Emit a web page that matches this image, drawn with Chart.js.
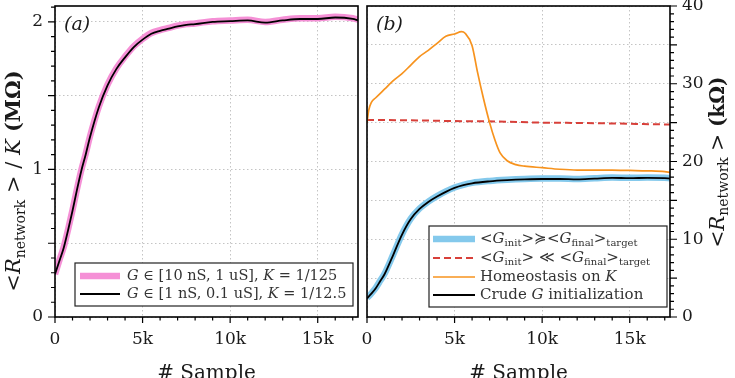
<!DOCTYPE html>
<html>
<head>
<meta charset="utf-8">
<script src="https://cdn.jsdelivr.net/npm/chart.js@4.4.0/dist/chart.umd.min.js"></script>
<style>
  html, body { margin: 0; padding: 0; background: #fff; overflow: hidden; }
  canvas { position: absolute; top: 0; }
  #chartA { left: 0; }
  #chartB { left: 362px; }
</style>
</head>
<body>
<canvas id="chartA" width="362" height="378"></canvas>
<canvas id="chartB" width="373" height="378"></canvas>
<script>
const FONT = '"DejaVu Serif", "Liberation Serif", serif';
const INK = "#1a1a1a";

// x axis (both panels)
const xMax = 17300;
const xTickValues = [0, 5000, 10000, 15000];
const xTickLabels = ["0", "5k", "10k", "15k"];

// panel (a): <R_network>/K in MOhm
const samplesA = [0, 250, 500, 750, 1000, 1250, 1500, 1750, 2000, 2500, 3000, 3500, 4000, 4500, 5000, 5500,
    6000, 6500, 7000, 7500, 8000, 9000, 10000, 11000, 12000, 13000, 14000, 15000, 16000, 17000, 17300];
const wideRange = [0.29, 0.385, 0.475, 0.595, 0.725, 0.865, 0.995, 1.105, 1.225, 1.425, 1.575, 1.685, 1.765, 1.835, 1.885, 1.925,
    1.945, 1.96, 1.975, 1.985, 1.99, 2.005, 2.01, 2.015, 2.0, 2.015, 2.025, 2.025, 2.035, 2.025, 2.015];
const narrowRange = [0.29, 0.38, 0.47, 0.59, 0.72, 0.86, 0.99, 1.10, 1.22, 1.42, 1.57, 1.68, 1.76, 1.83, 1.88, 1.92,
    1.94, 1.955, 1.97, 1.98, 1.985, 2.0, 2.005, 2.01, 1.995, 2.01, 2.02, 2.02, 2.03, 2.02, 2.01];
const yGridA = [0, 0.5, 1, 1.5, 2];
const yTicksA = [0, 1, 2];

// panel (b): <R_network> in kOhm
const samplesB = [0, 250, 500, 750, 1000, 1500, 2000, 2500, 3000, 3500, 4000, 4500, 5000, 5500, 6000, 7000,
    8000, 9000, 10000, 11000, 12000, 13000, 14000, 15000, 16000, 17000, 17300];
const matchedInit = [2.45, 3.05, 3.75, 4.65, 5.55, 8.05, 10.65, 12.65, 13.95, 14.85, 15.55, 16.15, 16.65, 17.0, 17.25, 17.5,
    17.65, 17.75, 17.8, 17.8, 17.75, 17.85, 17.95, 17.9, 17.95, 17.9, 17.85];
const crudeInit = [2.4, 3.0, 3.7, 4.6, 5.5, 8.0, 10.6, 12.6, 13.9, 14.8, 15.5, 16.1, 16.6, 16.95, 17.2, 17.45,
    17.6, 17.7, 17.75, 17.75, 17.7, 17.8, 17.9, 17.85, 17.9, 17.85, 17.8];
const samplesHomeo = [0, 100, 250, 500, 1000, 1500, 2000, 2500, 3000, 3500, 4000, 4500, 5000, 5400, 5600, 6000,
    6300, 6650, 7000, 7300, 7600, 8000, 8500, 9000, 10000, 11000, 12000, 13000, 14000, 15000, 16000, 17000, 17300];
const homeostasisK = [25.0, 26.6, 27.6, 28.2, 29.3, 30.4, 31.3, 32.4, 33.5, 34.3, 35.2, 36.1, 36.4, 36.7, 36.5, 34.9,
    31.6, 28.1, 25.0, 22.8, 21.1, 20.1, 19.6, 19.4, 19.2, 19.0, 18.9, 18.9, 18.9, 18.85, 18.8, 18.7, 18.6];
const samplesLow = [0, 2500, 5000, 7500, 10000, 12500, 15000, 17300];
const lowInit = [25.35, 25.3, 25.2, 25.15, 25.0, 24.95, 24.85, 24.75];
const yGridB = [0, 5, 10, 15, 20, 25, 30, 35, 40];
const yTicksB = [0, 10, 20, 30, 40];

function pts(xs, ys) {
    return xs.map((x, i) => ({ x: x, y: ys[i] }));
}

// rich text: [text, style] with n = normal, i = italic, b = bold, s = subscript
function partFont(style, size) {
    if (style === "i") return "italic " + size + "px " + FONT;
    if (style === "b") return "bold " + size + "px " + FONT;
    if (style === "s") return Math.round(size * 0.68) + "px " + FONT;
    return size + "px " + FONT;
}

function richWidth(ctx, parts, size) {
    let w = 0;
    parts.forEach(p => { ctx.font = partFont(p[1], size); w += ctx.measureText(p[0]).width; });
    return w;
}

function drawRich(ctx, parts, x, y, size, align) {
    let cx = x;
    if (align === "center") cx = x - richWidth(ctx, parts, size) / 2;
    ctx.textBaseline = "middle";
    ctx.textAlign = "left";
    parts.forEach(p => {
        ctx.font = partFont(p[1], size);
        const dy = p[1] === "s" ? size * 0.28 : 0;
        ctx.fillText(p[0], cx, y + dy);
        cx += ctx.measureText(p[0]).width;
    });
}

const panelPlugin = {
    id: "panel",
    afterDraw(chart, args, opts) {
        const ctx = chart.ctx;
        const area = chart.chartArea;
        const xs = chart.scales.x;
        const ys = chart.scales.y;
        ctx.save();
        ctx.fillStyle = INK;
        ctx.strokeStyle = "#000";

        // frame
        ctx.lineWidth = 1.6;
        ctx.strokeRect(area.left, area.top, area.right - area.left, area.bottom - area.top);

        // tick marks
        ctx.lineWidth = 1.2;
        ctx.beginPath();
        for (let v = 0; v <= xMax; v += 1000) {
            const px = xs.getPixelForValue(v);
            const len = v % 5000 === 0 ? 6 : 3.5;
            ctx.moveTo(px, area.bottom);
            ctx.lineTo(px, area.bottom + len);
        }
        const side = opts.ySide === "right" ? 1 : -1;
        const edge = side > 0 ? area.right : area.left;
        for (let k = 0; k * opts.yMinor <= ys.max + 1e-9; k++) {
            const v = k * opts.yMinor;
            const py = ys.getPixelForValue(v);
            const major = Math.abs(v / opts.yMajor - Math.round(v / opts.yMajor)) < 1e-6;
            ctx.moveTo(edge, py);
            ctx.lineTo(edge + side * (major ? 7 : 4), py);
        }
        ctx.stroke();

        // tick labels
        ctx.font = "17px " + FONT;
        ctx.textBaseline = "middle";
        ctx.textAlign = "center";
        xTickValues.forEach((v, i) => ctx.fillText(xTickLabels[i], xs.getPixelForValue(v), 340));
        ctx.textAlign = side > 0 ? "left" : "right";
        opts.yLabels.forEach(v => ctx.fillText(String(v), edge + side * 12, ys.getPixelForValue(v)));

        // panel label
        ctx.font = "italic 19px " + FONT;
        ctx.textAlign = "left";
        ctx.textBaseline = "alphabetic";
        ctx.fillText(opts.label, area.left + 9, 30);

        // x title
        ctx.font = "20px " + FONT;
        ctx.textAlign = "center";
        ctx.fillText("# Sample", (area.left + area.right) / 2, 379);

        // y title
        ctx.save();
        ctx.translate(opts.yTitleX, opts.yTitleY);
        ctx.rotate(-Math.PI / 2);
        drawRich(ctx, opts.yTitle, 0, 0, opts.yTitleSize, "center");
        ctx.restore();

        // legend
        const lg = opts.legend;
        ctx.fillStyle = "#fff";
        ctx.fillRect(lg.box[0], lg.box[1], lg.box[2] - lg.box[0], lg.box[3] - lg.box[1]);
        ctx.lineWidth = 1.2;
        ctx.strokeStyle = "#222";
        ctx.strokeRect(lg.box[0], lg.box[1], lg.box[2] - lg.box[0], lg.box[3] - lg.box[1]);
        lg.items.forEach((item, i) => {
            const ds = chart.data.datasets[item.ds];
            const y = lg.rows[i];
            ctx.save();
            ctx.strokeStyle = ds.borderColor;
            ctx.lineWidth = ds.borderWidth;
            ctx.setLineDash(ds.borderDash || []);
            ctx.beginPath();
            ctx.moveTo(lg.lineX[0], y);
            ctx.lineTo(lg.lineX[1], y);
            ctx.stroke();
            ctx.restore();
            ctx.fillStyle = "#333";
            drawRich(ctx, item.text, lg.textX, y, lg.size, "left");
        });
        ctx.restore();
    }
};

function axisX() {
    return {
        type: "linear",
        min: 0,
        max: xMax,
        afterBuildTicks: s => { s.ticks = xTickValues.map(v => ({ value: v })); },
        ticks: { display: false },
        grid: { color: "#c4c4c4", lineWidth: 1, drawTicks: false },
        border: { display: false, dash: [1.5, 2.5] },
        afterFit: s => { s.height = 61; }
    };
}

function axisY(max, gridValues, position, width) {
    return {
        type: "linear",
        position: position,
        min: 0,
        max: max,
        afterBuildTicks: s => { s.ticks = gridValues.map(v => ({ value: v })); },
        ticks: { display: false },
        grid: { color: "#c4c4c4", lineWidth: 1, drawTicks: false },
        border: { display: false, dash: [1.5, 2.5] },
        afterFit: s => { s.width = width; }
    };
}

const lineDefaults = { pointRadius: 0, fill: false, cubicInterpolationMode: "monotone" };

new Chart(document.getElementById("chartA"), {
    type: "line",
    data: {
        datasets: [
            Object.assign({ label: "wide", data: pts(samplesA, wideRange), borderColor: "#f590d6", borderWidth: 6.5, order: 2 }, lineDefaults),
            Object.assign({ label: "narrow", data: pts(samplesA, narrowRange), borderColor: "#000", borderWidth: 1.8, order: 1 }, lineDefaults)
        ]
    },
    options: {
        responsive: false,
        animation: false,
        events: [],
        layout: { padding: { top: 6, right: 4, left: 0, bottom: 0 } },
        plugins: {
            legend: { display: false },
            tooltip: { enabled: false },
            panel: {
                label: "(a)",
                ySide: "left",
                yMinor: 0.1,
                yMajor: 0.5,
                yLabels: yTicksA,
                yTitleX: 15,
                yTitleY: 181,
                yTitleSize: 21,
                yTitle: [["<", "n"], ["R", "i"], ["network", "s"], [" >", "n"], [" / ", "n"], ["K", "i"], [" (MΩ)", "b"]],
                legend: {
                    box: [75, 263, 353, 306],
                    rows: [276, 294],
                    lineX: [80, 120],
                    textX: 127,
                    size: 14.5,
                    items: [
                        { ds: 0, text: [["G", "i"], [" ∈ [10 nS, 1 uS], ", "n"], ["K", "i"], [" = 1/125", "n"]] },
                        { ds: 1, text: [["G", "i"], [" ∈ [1 nS, 0.1 uS], ", "n"], ["K", "i"], [" = 1/12.5", "n"]] }
                    ]
                }
            }
        },
        scales: {
            x: axisX(),
            y: axisY(2.108, yGridA, "left", 55)
        }
    },
    plugins: [panelPlugin]
});

new Chart(document.getElementById("chartB"), {
    type: "line",
    data: {
        datasets: [
            Object.assign({ label: "matched", data: pts(samplesB, matchedInit), borderColor: "#84c9ec", borderWidth: 6.5, order: 4 }, lineDefaults),
            Object.assign({ label: "low", data: pts(samplesLow, lowInit), borderColor: "#d8403a", borderWidth: 2, borderDash: [7, 4], order: 3 }, lineDefaults),
            Object.assign({ label: "homeo", data: pts(samplesHomeo, homeostasisK), borderColor: "#f7931e", borderWidth: 1.7, order: 2 }, lineDefaults),
            Object.assign({ label: "crude", data: pts(samplesB, crudeInit), borderColor: "#000", borderWidth: 1.8, order: 1 }, lineDefaults)
        ]
    },
    options: {
        responsive: false,
        animation: false,
        events: [],
        layout: { padding: { top: 6, right: 0, left: 5, bottom: 0 } },
        plugins: {
            legend: { display: false },
            tooltip: { enabled: false },
            panel: {
                label: "(b)",
                ySide: "right",
                yMinor: 1,
                yMajor: 5,
                yLabels: yTicksB,
                yTitleX: 357,
                yTitleY: 162,
                yTitleSize: 20,
                yTitle: [["<", "n"], ["R", "i"], ["network", "s"], [" >", "n"], [" (kΩ)", "b"]],
                legend: {
                    box: [67, 226, 305, 307],
                    rows: [239, 258, 277, 295],
                    lineX: [71, 113],
                    textX: 118,
                    size: 15,
                    items: [
                        { ds: 0, text: [["<", "n"], ["G", "i"], ["init", "s"], [">≽<", "n"], ["G", "i"], ["final", "s"], [">", "n"], ["target", "s"]] },
                        { ds: 1, text: [["<", "n"], ["G", "i"], ["init", "s"], ["> ≪ <", "n"], ["G", "i"], ["final", "s"], [">", "n"], ["target", "s"]] },
                        { ds: 2, text: [["Homeostasis on ", "n"], ["K", "i"]] },
                        { ds: 3, text: [["Crude ", "n"], ["G", "i"], [" initialization", "n"]] }
                    ]
                }
            }
        },
        scales: {
            x: axisX(),
            y: axisY(40, yGridB, "right", 65)
        }
    },
    plugins: [panelPlugin]
});
</script>
</body>
</html>
